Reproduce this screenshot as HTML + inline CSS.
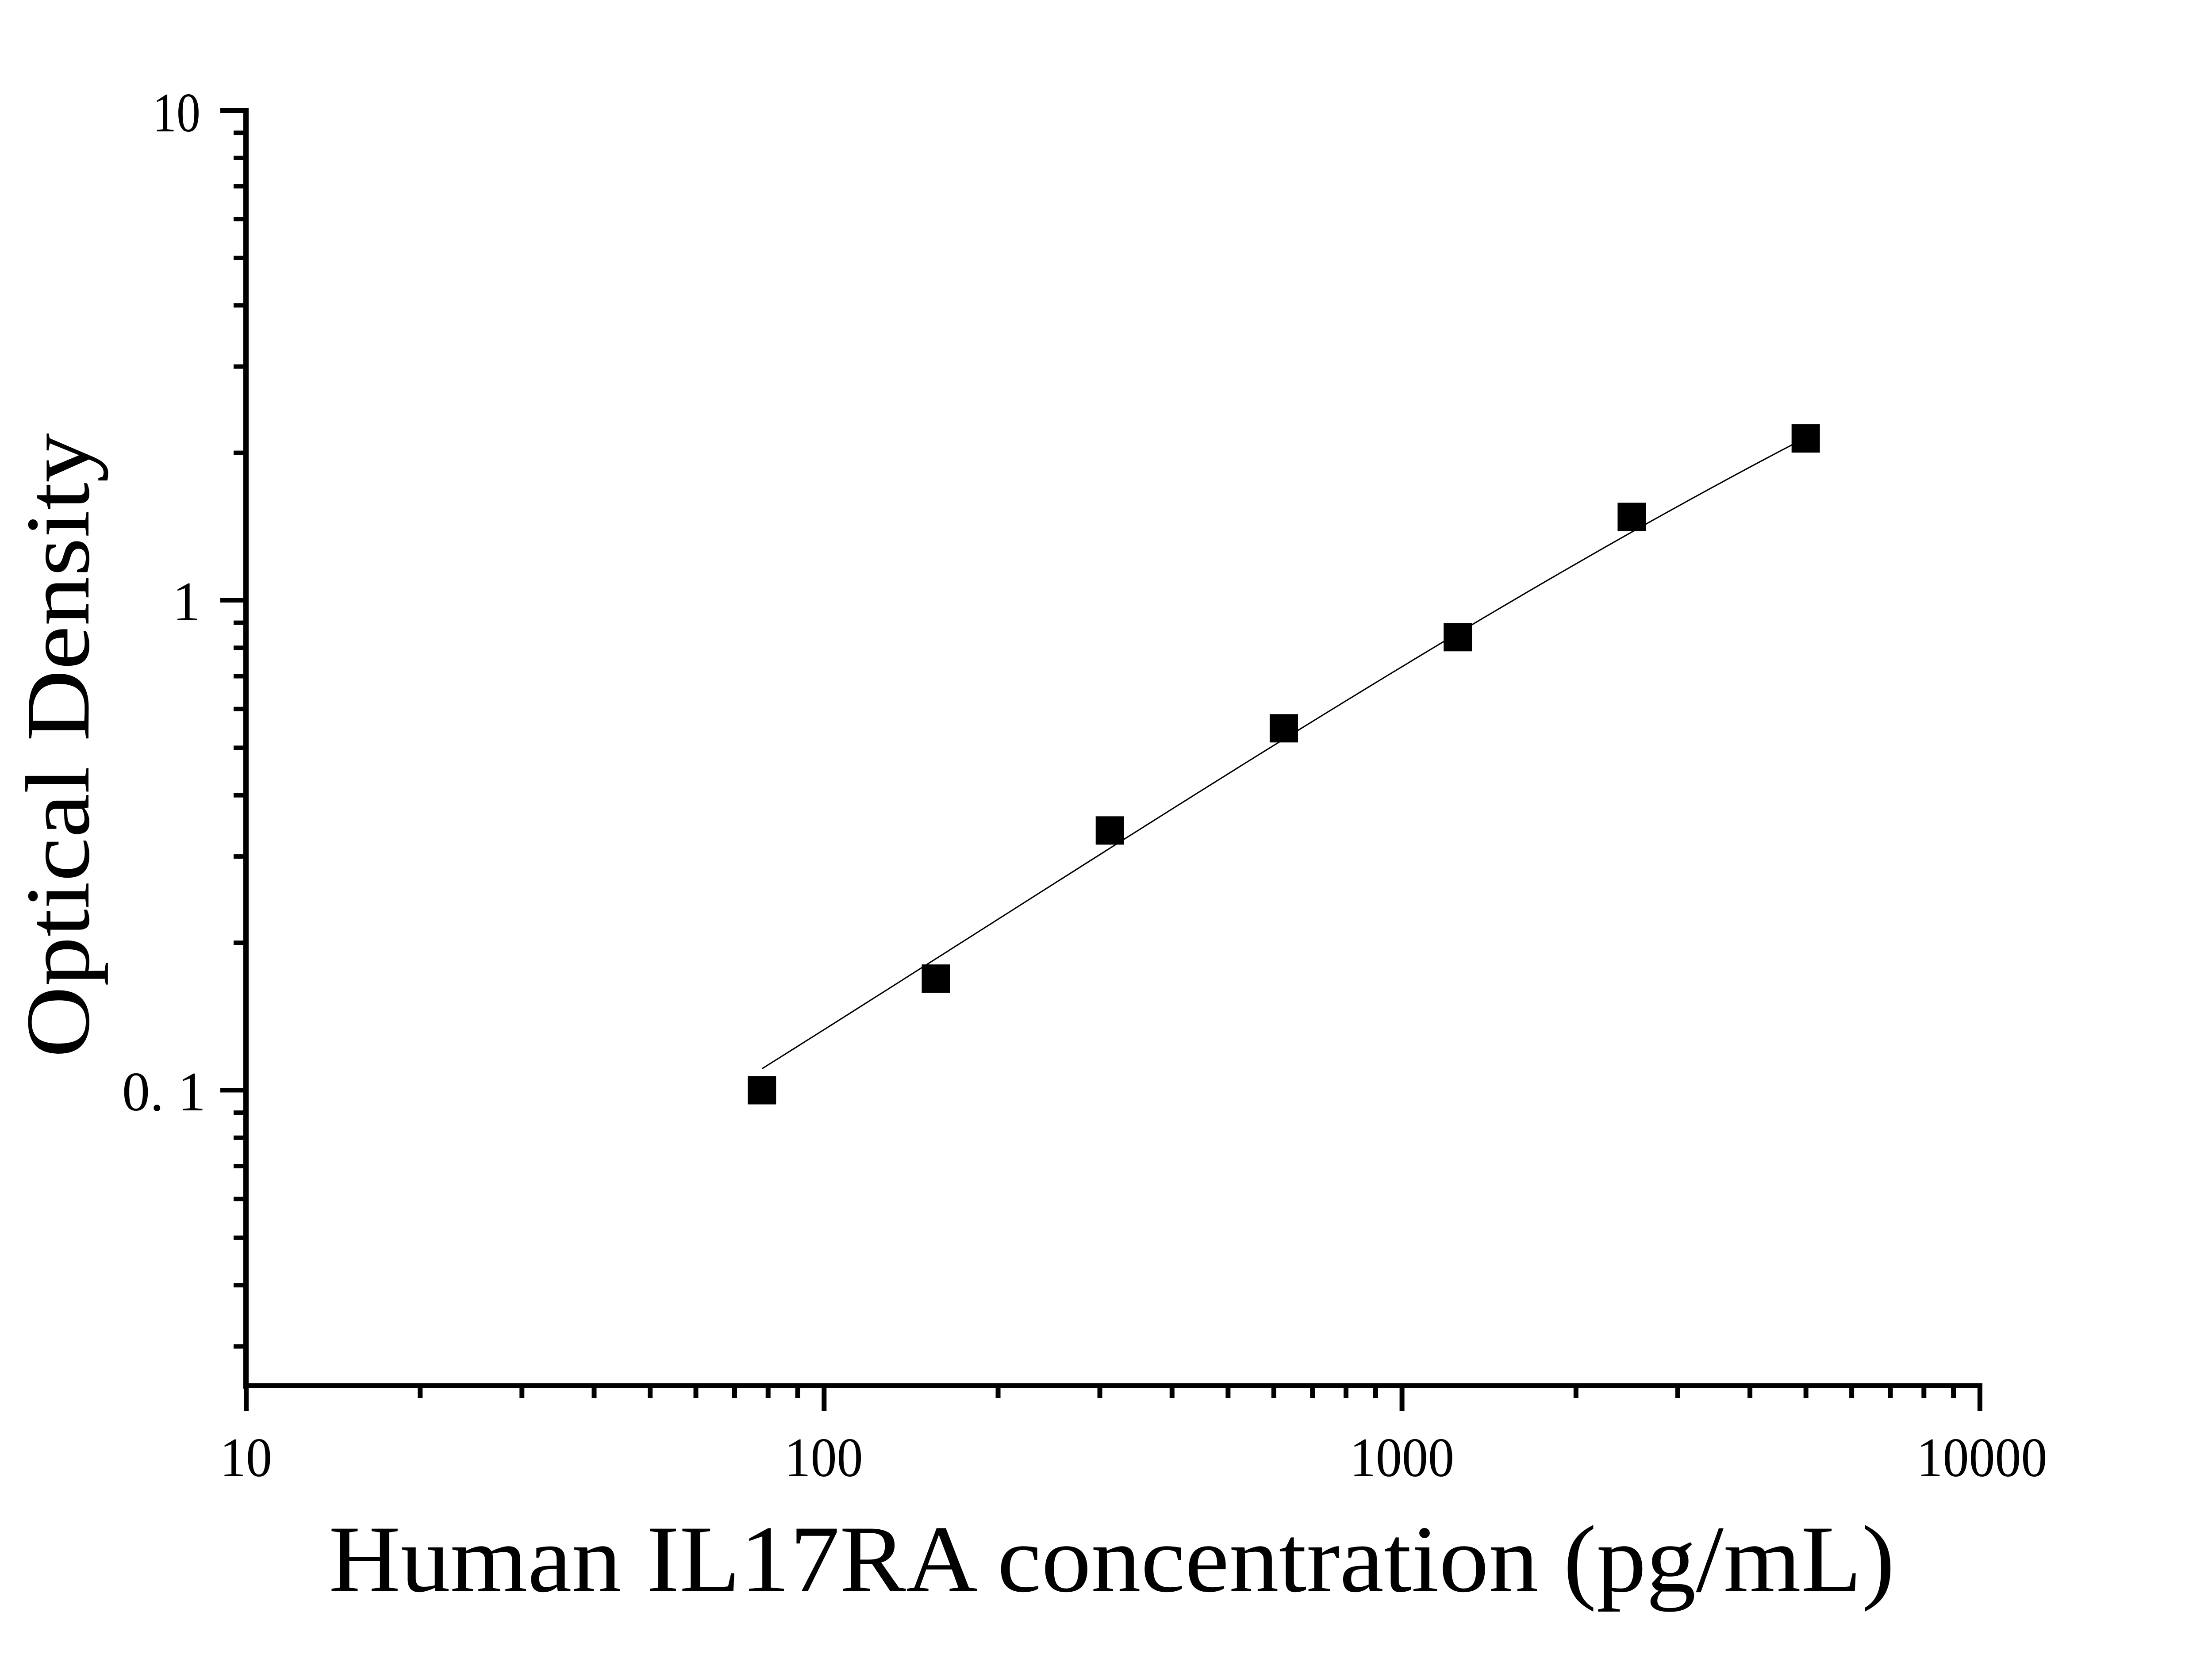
<!DOCTYPE html>
<html><head><meta charset="utf-8"><style>
html,body{margin:0;padding:0;background:#fff;}
svg{display:block;}
text{font-family:"Liberation Serif",serif;fill:#000;}
</style></head><body>
<svg id="s" width="5033" height="3766" xmlns="http://www.w3.org/2000/svg">
<g id="g"></g>
<text x="453" y="297" font-size="126" text-anchor="end" textLength="108" lengthAdjust="spacingAndGlyphs">10</text>
<text x="453" y="1402" font-size="126" text-anchor="end">1</text>
<text x="465" y="2510" font-size="126" text-anchor="end">0. 1</text>
<text x="556" y="3337" font-size="126" text-anchor="middle" textLength="118" lengthAdjust="spacingAndGlyphs">10</text>
<text x="1862" y="3337" font-size="126" text-anchor="middle" textLength="177" lengthAdjust="spacingAndGlyphs">100</text>
<text x="3169" y="3337" font-size="126" text-anchor="middle" textLength="236" lengthAdjust="spacingAndGlyphs">1000</text>
<text x="4480" y="3337" font-size="126" text-anchor="middle" textLength="295" lengthAdjust="spacingAndGlyphs">10000</text>
<text x="2513" y="3597" font-size="216" text-anchor="middle" textLength="3540" lengthAdjust="spacingAndGlyphs">Human IL17RA concentration (pg/mL)</text>
<text transform="translate(200,1685) rotate(-90)" font-size="206" text-anchor="middle" textLength="1412" lengthAdjust="spacingAndGlyphs">Optical Density</text>
</svg>
<script>
var g=document.getElementById('g'),h='';
var X0=556,XD=1306.3,Y1=1357,YD=1107.5,B=3133,T=250,R=4475;
function px(v){return X0+(Math.log10(v)-1)*XD;}
function py(v){return Y1-Math.log10(v)*YD;}
h+='<rect x="550" y="244" width="12" height="2895" fill="#000"/>';
h+='<rect x="550" y="3127" width="3931" height="11" fill="#000"/>';
h+='<rect x="498" y="244" width="64" height="11" fill="#000"/>';
for(var e=-2;e<=1;e++){for(var m=1;m<=9;m++){var v=m*Math.pow(10,e);var y=py(v);if(y<T-2||y>B)continue;
 if(m==1)h+='<rect x="498" y="'+(y-5)+'" width="60" height="10" fill="#000"/>';
 else h+='<rect x="528" y="'+(y-5)+'" width="30" height="10" fill="#000"/>';}}
for(var e=1;e<=4;e++){for(var m=1;m<=9;m++){var v=m*Math.pow(10,e);var x=px(v);if(x>R+2)continue;
 if(m==1)h+='<rect x="'+(x-5)+'" y="3133" width="11" height="57" fill="#000"/>';
 else h+='<rect x="'+(x-5)+'" y="3133" width="11" height="27" fill="#000"/>';}}
var d='';
for(var i=0;i<=120;i++){var t=-1+2*i/120;var lx=2.796+0.903*t;var ly=-0.2833+0.6603*t-0.0287*t*t-0.0163*t*t*t;
 var x=X0+(lx-1)*XD,y=Y1-ly*YD;d+=(i?' L':'M')+x.toFixed(1)+','+y.toFixed(1);}
h+='<path d="'+d+'" fill="none" stroke="#000" stroke-width="3"/>';
var cx=[78.125,156.25,312.5,625,1250,2500,5000];
var dy=[0.1,0.169,0.339,0.548,0.841,1.48,2.14];
for(var i=0;i<7;i++){h+='<rect x="'+(px(cx[i])-32)+'" y="'+(py(dy[i])-32)+'" width="64" height="64" fill="#000"/>';}
g.innerHTML=h;
</script>
</body></html>
